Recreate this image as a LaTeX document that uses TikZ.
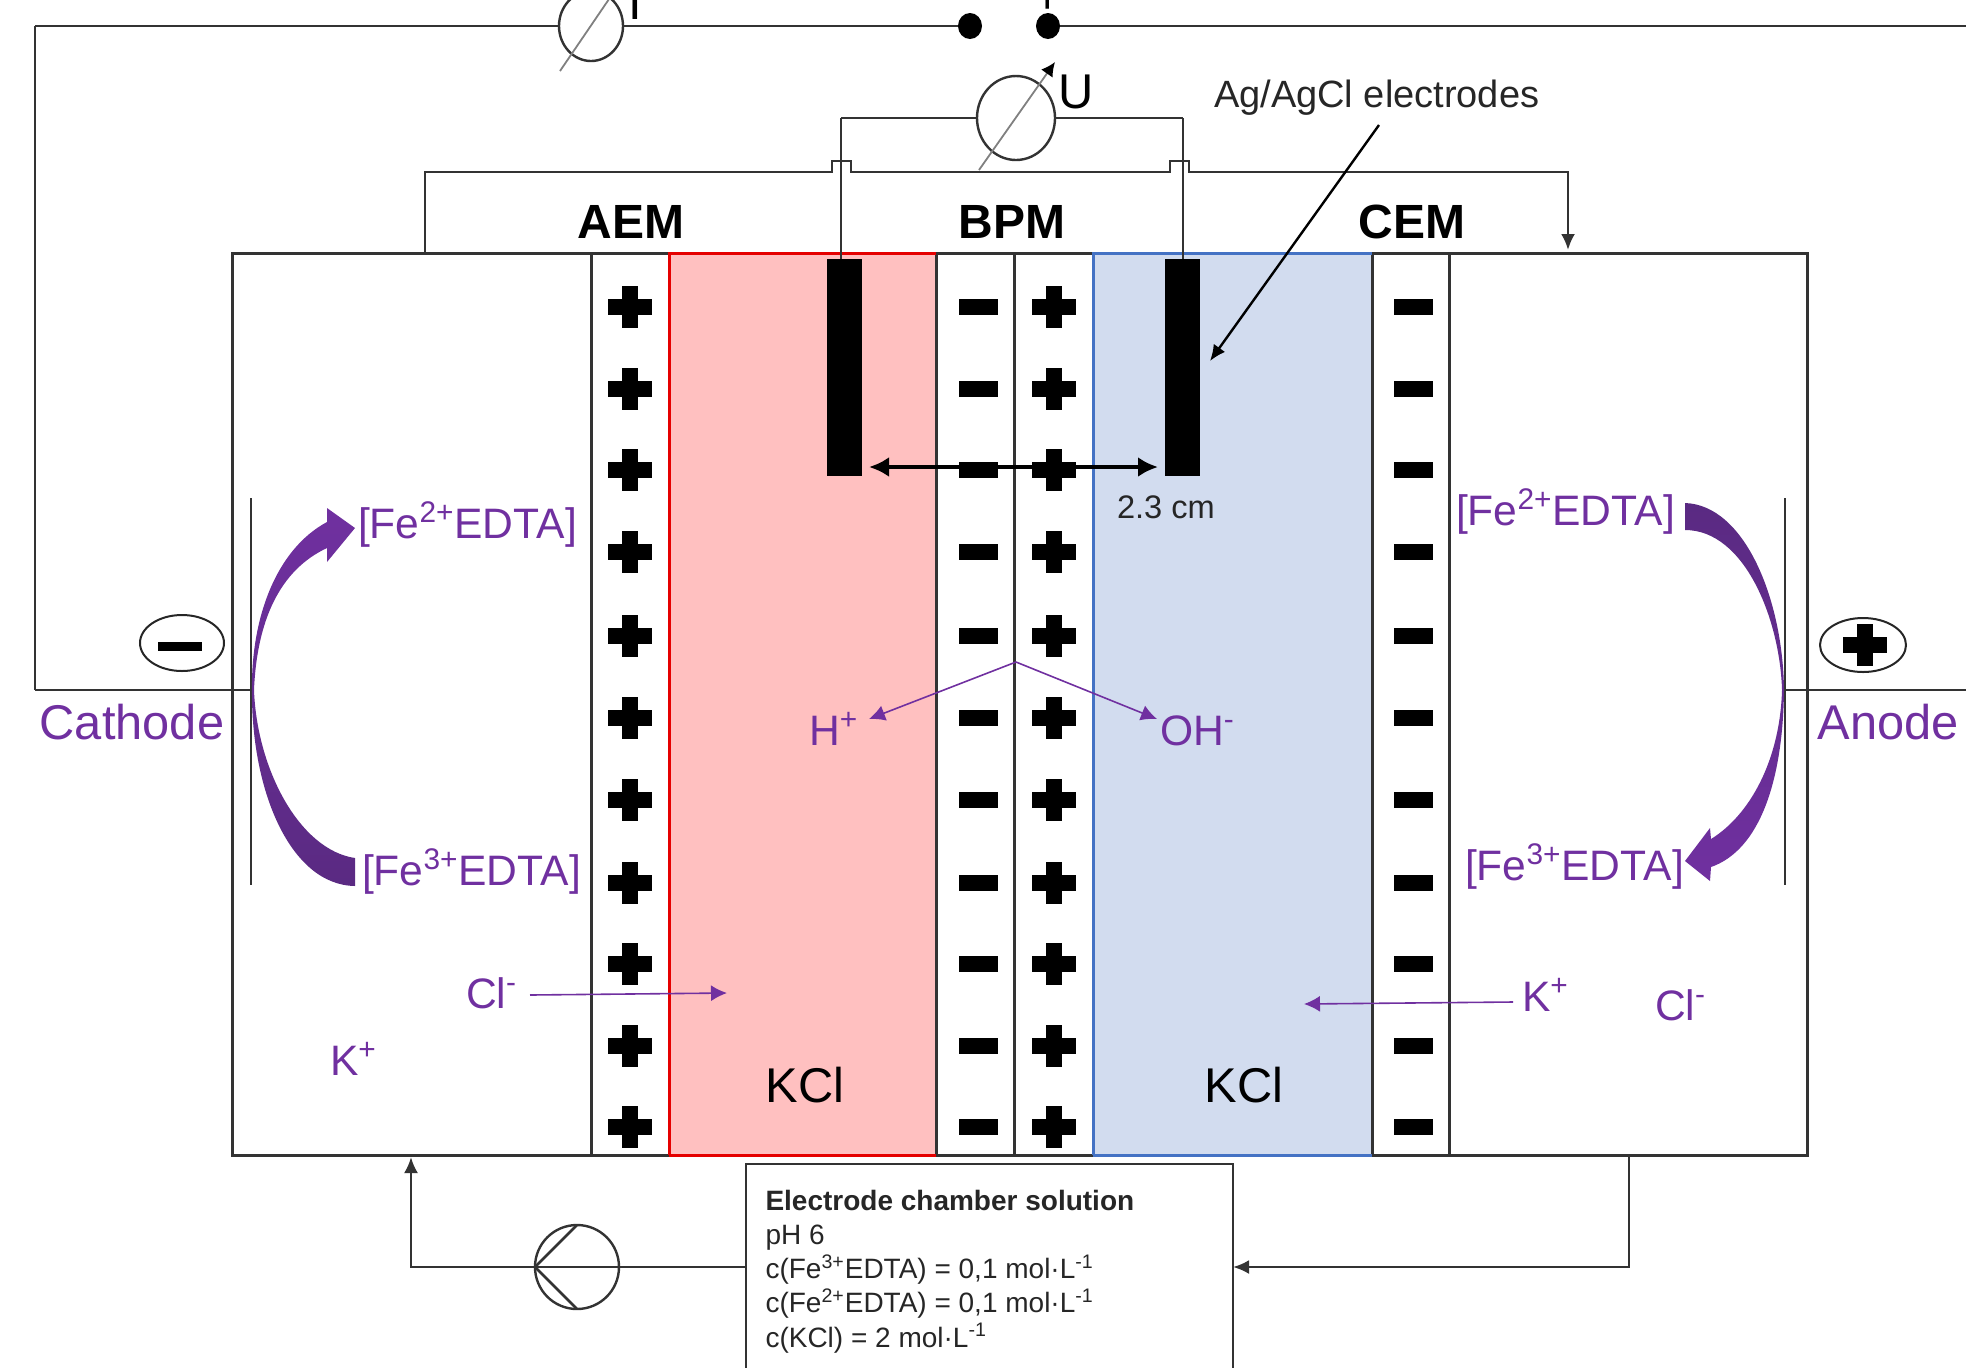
\documentclass[tikz,border=0pt]{standalone}
\usepackage{fontspec}
\setmainfont{Liberation Sans}
\usetikzlibrary{arrows.meta,shapes.geometric}
\definecolor{ionpurple}{HTML}{7030A0}
\definecolor{darkpurple}{HTML}{5A2A82}
\definecolor{redzone}{HTML}{FFC0C0}
\definecolor{bluezone}{HTML}{D2DCEF}
\definecolor{edgeblue}{HTML}{4472C4}
\definecolor{wiregray}{HTML}{333333}
\tikzset{plusmark/.pic={\fill (-22,-8) rectangle (22,8); \fill (-8,-21) rectangle (8,21);}}
\begin{document}
\begin{tikzpicture}
  [x=.5pt,y=-.5pt,every node/.style={inner sep=0pt,outer sep=0pt}]
  \tikzstyle{wire} = [draw=wiregray,line width=1.3pt]
  \tikzstyle{mem} = [draw=wiregray,line width=1.5pt]
  \tikzstyle{meter} = [draw=wiregray,line width=1.2pt,ellipse]
  \tikzstyle{slash} = [draw=gray,line width=.9pt]
  \tikzstyle{term} = [fill=black,ellipse,minimum width=12pt,minimum height=13pt]
  \tikzstyle{minusmark} = [fill=black,minimum width=19.5pt,minimum height=8pt]
  \tikzstyle{electrode} = [fill=black,minimum width=17.5pt,minimum height=108.5pt,anchor=north]
  \tikzstyle{big} = [anchor=base,font=\fontsize{24.4}{28}\selectfont]
  \tikzstyle{head} = [big,font=\fontsize{24}{28}\selectfont\bfseries]
  \tikzstyle{ion} = [anchor=base west,text=ionpurple,font=\fontsize{21.3}{25}\selectfont]
  \tikzstyle{thinion} = [draw=ionpurple,line width=.8pt,-{Latex[length=8pt,width=8pt]}]
  \useasboundingbox (0,0) rectangle (1966,1367);
  \clip (0,0) rectangle (1966,1367);
  \fill[redzone] (669,253) rectangle (936,1155);
  \fill[bluezone] (1093,253) rectangle (1372,1155);
  \draw[mem] (232,253) rectangle (1807,1155);
  \foreach \xpos in {591,936,1014,1372,1449}
   \draw[mem] (\xpos,253) -- (\xpos,1155);
  \draw[red!90!black,line width=1.5pt] (669,1155) -- (669,253) -- (936,253) (669,1155) -- (936,1155);
  \draw[edgeblue,line width=1.5pt] (1093,1155) -- (1093,253) -- (1372,253) (1093,1155) -- (1372,1155);
  \foreach \rowy in {307,389,470,552,636,718,800,883,964,1046,1127} {
   \pic at (629.5,\rowy) {plusmark};
   \node[minusmark] (bpmminus\rowy) at (978,\rowy) {};
   \pic at (1054,\rowy) {plusmark};
   \node[minusmark] (cemminus\rowy) at (1413,\rowy) {};
  }
  \node[electrode] (ela) at (844,259) {};
  \node[electrode] (elb) at (1182,259) {};
  \node[meter,minimum width=32pt,minimum height=35pt] (am) at (591,26) {};
  \node[meter,minimum width=39pt,minimum height=42pt] (volt) at (1016,118) {};
  \node[meter,minimum width=42pt,minimum height=42pt] (pump) at (577,1267) {};
  \node[term] (tminus) at (970,26) {};
  \node[term] (tplus) at (1048,26) {};
  \node[big,anchor=base] (tminuslab) at (970,10) {-};
  \node[big,anchor=base] (tpluslab) at (1048,13) {+};
  \node[big,anchor=base west] (amlab) at (628,19) {I};
  \node[big,anchor=base west] (voltlab) at (1058,108) {U};
  \node[draw=wiregray,line width=1.3pt,minimum width=243.5pt,minimum height=103pt,anchor=north west] (solbox) at (746,1164) {};
  \node[anchor=north west,align=left,text=black!85,font=\fontsize{14}{17.1}\selectfont] (soltext) at (765.5,1190)
   {\textbf{Electrode chamber solution}\\ pH 6\\ c(Fe\textsuperscript{3+}EDTA) = 0,1 mol·L\textsuperscript{-1}\\ c(Fe\textsuperscript{2+}EDTA) = 0,1 mol·L\textsuperscript{-1}\\ c(KCl) = 2 mol·L\textsuperscript{-1}};
  \coordinate (cornertl) at (35,26);
  \coordinate (cornerbl) at (35,690);
  \coordinate (catwire) at (251,690);
  \coordinate (anwire) at (1785,690);
  \coordinate (rightlow) at (1966,690);
  \coordinate (righttop) at (1966,26);
  \coordinate (wirea) at (841,118);
  \coordinate (wireb) at (1183,118);
  \coordinate (cattop) at (251,498);
  \coordinate (catbot) at (251,885);
  \coordinate (antop) at (1785,498);
  \coordinate (anbot) at (1785,885);
  \foreach \source /\dest in {am/tminus,am/cornertl,cornertl/cornerbl,cornerbl/catwire,cattop/catbot,tplus/righttop,anwire/rightlow,antop/anbot,volt/wirea,volt/wireb}
   \draw[wire] (\source) -- (\dest);
  \draw[wire] (wirea) -- (wirea |- ela.north);
  \draw[wire] (wireb) -- (wireb |- elb.north);
  \coordinate (cellin) at (425,253);
  \coordinate (cellout) at (1568,250);
  \draw[wire,-{Latex[length=8pt,width=7pt]}] (cellin) -- (425,172) -- (832,172) -- (832,161) -- (851,161) -- (851,172) -- (1170,172) -- (1170,161) -- (1189,161) -- (1189,172) -- (1568,172) -- (cellout);
  \coordinate (pumpup) at (411,1157);
  \coordinate (solout) at (1629,1155);
  \draw[wire,-{Latex[length=8pt,width=7pt]}] (solbox.west) -- (411,1267) -- (pumpup);
  \draw[wire,-{Latex[length=8pt,width=7pt]}] (solout) -- (1629,1267) -- (solbox.east);
  \draw[wire] (pump.north) -- (pump.west) -- (pump.south);
  \coordinate (amlow) at (560,71);
  \coordinate (amhigh) at (622,-20);
  \coordinate (voltlow) at (979,170);
  \coordinate (volthigh) at (1055,62);
  \draw[slash] (amlow) -- (amhigh);
  \draw[slash,-{Latex[length=7pt,width=7pt,black]}] (voltlow) -- (volthigh);
  \node[anchor=base west,font=\fontsize{19}{23}\selectfont,text=black!85] (agcl) at (1214,107) {Ag/AgCl electrodes};
  \coordinate (agtip) at (1210,361);
  \draw[draw=black,line width=1.2pt,-{Latex[length=8pt,width=7pt]}] (1379,125) -- (agtip);
  \node[head] (aem) at (631,238) {AEM};
  \node[head] (bpm) at (1012,238) {BPM};
  \node[head] (cem) at (1412,238) {CEM};
  \node[big] (kcla) at (805,1102) {KCl};
  \node[big] (kclb) at (1244,1102) {KCl};
  \node[big,text=ionpurple] (cathode) at (132,739) {Cathode};
  \node[big,text=ionpurple] (anode) at (1888,739) {Anode};
  \node[ion] (fetl) at (358,538) {[Fe\textsuperscript{2+}EDTA]};
  \node[ion] (febl) at (362,885) {[Fe\textsuperscript{3+}EDTA]};
  \node[ion] (fetr) at (1456,525) {[Fe\textsuperscript{2+}EDTA]};
  \node[ion] (febr) at (1465,880) {[Fe\textsuperscript{3+}EDTA]};
  \node[ion] (hion) at (809,745) {H\textsuperscript{+}};
  \node[ion] (ohion) at (1160,745) {OH\textsuperscript{-}};
  \node[ion] (cla) at (466,1008) {Cl\textsuperscript{-}};
  \node[ion] (ka) at (330,1075) {K\textsuperscript{+}};
  \node[ion] (kb) at (1522,1011) {K\textsuperscript{+}};
  \node[ion] (clb) at (1655,1020) {Cl\textsuperscript{-}};
  \node[anchor=base west,font=\fontsize{16.3}{20}\selectfont,text=black!85] (dist) at (1117,518) {2.3 cm};
  \coordinate (split) at (1016,662);
  \coordinate (hend) at (869,719);
  \coordinate (ohend) at (1157,719);
  \coordinate (clfrom) at (530,995);
  \coordinate (clto) at (727,993);
  \coordinate (kfrom) at (1513,1002);
  \coordinate (kto) at (1304,1004);
  \foreach \source /\dest in {split/hend,split/ohend,clfrom/clto,kfrom/kto}
   \draw[thinion] (\source) -- (\dest);
  \coordinate (gapa) at (869,467);
  \coordinate (gapb) at (1158,467);
  \draw[draw=black,line width=2pt,{Latex[length=10pt,width=10pt]}-{Latex[length=10pt,width=10pt]}] (gapa) -- (gapb);
  \shade[top color=ionpurple,bottom color=darkpurple] (355,858) .. controls (300,850) and (257,770) .. (254,690) .. controls (257,620) and (280,570) .. (327,548) -- (327,562) -- (355,528) -- (327,508) -- (327,522) .. controls (275,550) and (251,620) .. (252,690) .. controls (251,790) and (290,885) .. (355,886) -- cycle;
  \shade[top color=darkpurple,bottom color=ionpurple] (1685,503) .. controls (1745,505) and (1783,600) .. (1784,690) .. controls (1783,780) and (1760,850) .. (1711,867) -- (1710,881) -- (1685,861) -- (1710,828) -- (1711,839) .. controls (1750,815) and (1780,760) .. (1782,690) .. controls (1780,620) and (1745,530) .. (1685,530) -- cycle;
  \node[draw=black!85,line width=1pt,ellipse,minimum width=42pt,minimum height=28pt] (catsign) at (182,643) {};
  \node[fill=black,minimum width=22pt,minimum height=4.5pt] (catbar) at (180,646) {};
  \node[draw=black!85,line width=1pt,ellipse,minimum width=43pt,minimum height=27pt] (ansign) at (1863,645) {};
  \pic at (1865,645) {plusmark};
  \end{tikzpicture}
\end{document}
